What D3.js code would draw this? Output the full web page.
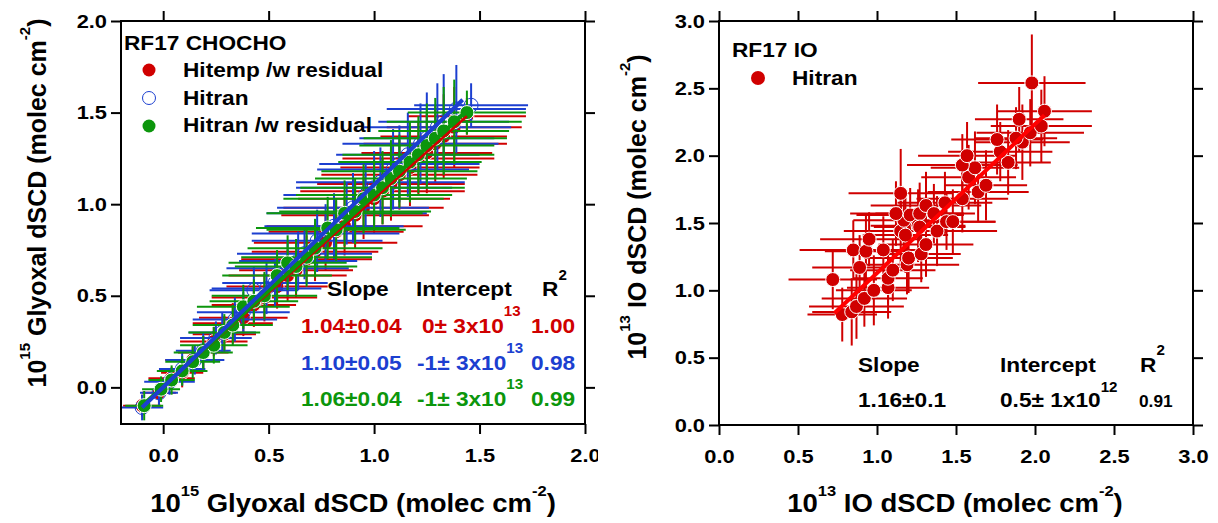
<!DOCTYPE html>
<html>
<head>
<meta charset="utf-8">
<script src="https://cdn.jsdelivr.net/npm/d3@7"></script>
<style>
  body { margin: 0; background: #fff; }
  text { font-family: "Liberation Sans", Arial, sans-serif; font-weight: bold; }
</style>
</head>
<body>
<svg id="chart" width="1218" height="523"></svg>
<script>
// ---- left panel: CHOCHO (10^15 molec cm-2) ----
const seriesNames = ["Hitemp /w residual", "Hitran", "Hitran /w residual"];
const seriesColors = ["#d00000", "#1c3fd0", "#0c960c"];

const hitempX = [-0.10,-0.02,0.04,0.09,0.14,0.19,0.24,0.29,0.33,0.38,0.43,0.48,0.54,0.59,0.63,0.68,0.72,0.77,0.82,0.86,0.91,0.95,1.00,1.04,1.08,1.12,1.17,1.21,1.25,1.29,1.33,1.38,1.44];
const hitempY = [-0.10,-0.03,0.05,0.08,0.15,0.19,0.25,0.29,0.35,0.38,0.45,0.49,0.55,0.61,0.64,0.70,0.74,0.79,0.85,0.88,0.94,0.98,1.03,1.07,1.11,1.16,1.20,1.25,1.28,1.33,1.37,1.42,1.48];
const hitempXerr = [0.09,0.08,0.11,0.10,0.13,0.12,0.16,0.15,0.19,0.21,0.20,0.25,0.24,0.28,0.27,0.31,0.30,0.34,0.32,0.37,0.35,0.38,0.36,0.39,0.35,0.37,0.33,0.36,0.31,0.34,0.30,0.32,0.28];
const hitempYerr = [0.06,0.07,0.06,0.08,0.07,0.09,0.08,0.10,0.11,0.10,0.12,0.13,0.12,0.14,0.15,0.13,0.16,0.15,0.17,0.16,0.18,0.17,0.19,0.18,0.20,0.19,0.21,0.20,0.22,0.21,0.23,0.22,0.10];

const hitranX = [-0.10,-0.02,0.03,0.09,0.15,0.19,0.25,0.28,0.34,0.38,0.43,0.49,0.53,0.59,0.64,0.67,0.73,0.77,0.81,0.87,0.90,0.96,1.00,1.03,1.09,1.12,1.16,1.22,1.25,1.30,1.33,1.39,1.46];
const hitranY = [-0.11,-0.03,0.03,0.10,0.15,0.20,0.27,0.30,0.37,0.41,0.53,0.54,0.57,0.65,0.69,0.73,0.80,0.84,0.88,0.95,0.98,1.05,1.09,1.12,1.19,1.22,1.27,1.33,1.36,1.42,1.45,1.52,1.54];
const hitranXerr = [0.10,0.09,0.12,0.11,0.14,0.13,0.17,0.16,0.20,0.22,0.21,0.26,0.25,0.29,0.28,0.32,0.31,0.35,0.33,0.38,0.36,0.39,0.37,0.40,0.36,0.38,0.34,0.37,0.32,0.35,0.31,0.33,0.27];
const hitranYerr = [0.07,0.07,0.07,0.09,0.08,0.10,0.09,0.11,0.12,0.11,0.13,0.14,0.13,0.15,0.16,0.14,0.17,0.16,0.18,0.17,0.19,0.18,0.20,0.19,0.22,0.21,0.23,0.22,0.25,0.24,0.26,0.24,0.12];

const hitranResX = [-0.09,-0.01,0.04,0.09,0.14,0.19,0.24,0.29,0.33,0.38,0.43,0.48,0.54,0.59,0.63,0.68,0.72,0.78,0.82,0.86,0.91,0.95,1.00,1.04,1.08,1.12,1.17,1.21,1.25,1.29,1.33,1.38,1.44];
const hitranResY = [-0.10,-0.01,0.04,0.09,0.14,0.19,0.23,0.30,0.34,0.44,0.47,0.50,0.61,0.68,0.66,0.71,0.76,0.87,0.86,0.95,0.96,1.03,1.05,1.09,1.14,1.18,1.23,1.27,1.32,1.36,1.40,1.45,1.50];
const hitranResXerr = [0.09,0.09,0.11,0.12,0.13,0.14,0.16,0.17,0.19,0.22,0.21,0.25,0.26,0.28,0.29,0.31,0.32,0.34,0.33,0.37,0.36,0.38,0.37,0.39,0.36,0.37,0.34,0.36,0.32,0.34,0.31,0.32,0.28];
const hitranResYerr = [0.08,0.07,0.08,0.08,0.09,0.09,0.10,0.10,0.11,0.12,0.12,0.13,0.14,0.15,0.15,0.16,0.16,0.17,0.17,0.18,0.18,0.19,0.19,0.20,0.21,0.20,0.22,0.21,0.23,0.22,0.24,0.23,0.12];

// fitted lines, end points
const chochoFitX = [[-0.10, 1.44], [-0.10, 1.42], [-0.10, 1.44]];
const chochoFitY = [[-0.10, 1.48], [-0.11, 1.57], [-0.10, 1.51]];

const chochoSlope = ["1.04±0.04", "1.10±0.05", "1.06±0.04"];
const chochoIntercept = ["0± 3x10", "-1± 3x10", "-1± 3x10"];
const chochoExp = "13";
const chochoR2 = ["1.00", "0.98", "0.99"];

const chochoTicks = [0, 0.5, 1.0, 1.5, 2.0];

// ---- right panel: IO (10^13 molec cm-2) ----
const ioX = [0.72,0.78,0.84,0.87,0.92,0.98,1.07,1.07,0.89,0.85,0.93,0.95,1.04,1.10,1.19,1.20,1.28,1.31,1.15,1.18,1.17,1.12,1.21,1.26,1.27,1.31,1.36,1.38,1.44,1.48,1.43,1.15,1.54,1.64,1.69,1.58,1.62,1.54,1.57,1.83,1.78,1.76,1.92,1.88,1.97,2.04,1.90,2.06,1.98,1.27];
const ioY = [1.08,0.82,0.84,0.88,0.94,1.00,1.02,1.09,1.17,1.30,1.29,1.38,1.30,1.15,1.19,1.24,1.27,1.34,1.44,1.41,1.52,1.57,1.56,1.48,1.57,1.63,1.57,1.44,1.51,1.51,1.65,1.72,1.68,1.73,1.78,1.84,1.91,1.93,2.00,1.95,2.03,2.12,2.10,2.13,2.17,2.22,2.27,2.33,2.54,1.47];
const ioXerr = [0.28,0.22,0.25,0.30,0.27,0.24,0.26,0.22,0.30,0.34,0.26,0.31,0.29,0.27,0.33,0.28,0.25,0.30,0.36,0.27,0.32,0.29,0.34,0.30,0.28,0.35,0.26,0.38,0.31,0.27,0.30,0.33,0.29,0.32,0.26,0.30,0.28,0.35,0.31,0.27,0.33,0.29,0.30,0.26,0.34,0.32,0.28,0.30,0.34,0.29];
const ioYerr = [0.22,0.20,0.25,0.24,0.21,0.26,0.23,0.19,0.24,0.22,0.27,0.20,0.25,0.23,0.22,0.26,0.21,0.24,0.25,0.28,0.22,0.24,0.20,0.27,0.23,0.25,0.22,0.26,0.21,0.24,0.23,0.33,0.25,0.22,0.26,0.24,0.27,0.23,0.25,0.24,0.22,0.26,0.28,0.23,0.25,0.27,0.24,0.26,0.36,0.22];

const ioFitX = [0.73, 2.06];
const ioFitY = [0.83, 2.30];

const ioSlope = "1.16±0.1";
const ioIntercept = "0.5± 1x10";
const ioExp = "12";
const ioR2 = "0.91";

const ioTicks = [0, 0.5, 1.0, 1.5, 2.0, 2.5, 3.0];

// ---------------------------------------------------------------
const SX = 1.08;     // picture is a bit wider than tall
const fmt = d3.format(".1f");
const svg = d3.select("#chart");

function stretchText(g, x, y, size, sx) {
  return g.append("text")
    .attr("transform", `translate(${x},${y}) scale(${sx || SX},1)`)
    .attr("font-size", size);
}

function supText(g, x, y, size, base, sup, supSize, dy, color) {
  const t = stretchText(g, x, y, size).attr("fill", color || "#000");
  t.append("tspan").text(base);
  t.append("tspan").attr("dy", dy).attr("font-size", supSize).text(sup);
  return t;
}

// axes on all four sides, ticks pointing outward
function frame(g, x, y, ticksX, ticksY) {
  const x0 = x.range()[0], x1 = x.range()[1];
  const y0 = y.range()[0], y1 = y.range()[1];

  const styleAxis = function(sel, labelled) {
    sel.select(".domain").remove();
    sel.selectAll(".tick line").attr("stroke", "#000").attr("stroke-width", 2);
    if (labelled) {
      sel.attr("font-size", 19).attr("font-family", null)
      sel.selectAll(".tick text").each(function() {
        const t = d3.select(this);
        t.attr("x", +t.attr("x") / 1.15).attr("transform", "scale(1.15,1)")
         .attr("fill", "#000");
      });
    }
  };

  g.append("g").attr("transform", `translate(0,${y0})`)
    .call(d3.axisBottom(x).tickValues(ticksX).tickSize(10).tickPadding(15).tickFormat(fmt))
    .call(s => styleAxis(s, true));
  g.append("g").attr("transform", `translate(0,${y1})`)
    .call(d3.axisTop(x).tickValues(ticksX).tickSize(10).tickFormat(""))
    .call(s => styleAxis(s, false));
  g.append("g").attr("transform", `translate(${x0},0)`)
    .call(d3.axisLeft(y).tickValues(ticksY).tickSize(10).tickPadding(4).tickFormat(fmt))
    .call(s => styleAxis(s, true));
  g.append("g").attr("transform", `translate(${x1},0)`)
    .call(d3.axisRight(y).tickValues(ticksY).tickSize(10).tickFormat(""))
    .call(s => styleAxis(s, false));

  g.append("rect")
    .attr("x", x0).attr("y", y1)
    .attr("width", x1 - x0).attr("height", y0 - y1)
    .attr("fill", "none").attr("stroke", "#000").attr("stroke-width", 2);
}

function errorSeries(g, x, y, xs, ys, xe, ye, color, fill, r) {
  const pts = xs.map((d, i) => ({x: d, y: ys[i], xe: xe[i], ye: ye[i]}));
  const s = g.append("g");
  s.selectAll(null).data(pts).enter().append("line")
    .attr("x1", d => x(d.x - d.xe)).attr("x2", d => x(d.x + d.xe))
    .attr("y1", d => y(d.y)).attr("y2", d => y(d.y))
    .attr("stroke", color).attr("stroke-width", 2);
  s.selectAll(null).data(pts).enter().append("line")
    .attr("x1", d => x(d.x)).attr("x2", d => x(d.x))
    .attr("y1", d => y(d.y - d.ye)).attr("y2", d => y(d.y + d.ye))
    .attr("stroke", color).attr("stroke-width", 2);
  s.selectAll(null).data(pts).enter().append("circle")
    .attr("cx", d => x(d.x)).attr("cy", d => y(d.y)).attr("r", r)
    .attr("fill", fill)
    .attr("stroke", fill === "none" ? color : "#fff")
    .attr("stroke-width", 1);
}

// =================== left panel ===================
const left = svg.append("svg").attr("x", 0).attr("y", 0)
  .attr("width", 598).attr("height", 523);

const xL = d3.scaleLinear().domain([-0.2, 2.0]).range([121, 585]);
const yL = d3.scaleLinear().domain([-0.2, 2.0]).range([424, 21]);

left.append("clipPath").attr("id", "clipL").append("rect")
  .attr("x", 121).attr("y", 21).attr("width", 464).attr("height", 403);

const plotL = left.append("g").attr("clip-path", "url(#clipL)");
const leftSeries = [
  [hitempX, hitempY, hitempXerr, hitempYerr],
  [hitranX, hitranY, hitranXerr, hitranYerr],
  [hitranResX, hitranResY, hitranResXerr, hitranResYerr]
];
leftSeries.forEach((s, i) => {
  errorSeries(plotL, xL, yL, s[0], s[1], s[2], s[3], seriesColors[i],
    i === 1 ? "none" : seriesColors[i], 7);
});

// fit lines
const fitWidth = [2.5, 4, 4];
[0, 2, 1].forEach(i => {
  plotL.append("line")
    .attr("x1", xL(chochoFitX[i][0])).attr("x2", xL(chochoFitX[i][1]))
    .attr("y1", yL(chochoFitY[i][0])).attr("y2", yL(chochoFitY[i][1]))
    .attr("stroke", seriesColors[i]).attr("stroke-width", fitWidth[i]);
});

frame(left, xL, yL, chochoTicks, chochoTicks);

// legend
stretchText(left, 124, 50, 21).text("RF17 CHOCHO");
seriesNames.forEach((name, i) => {
  left.append("circle")
    .attr("cx", 149).attr("cy", 70 + i * 28).attr("r", 6.5)
    .attr("fill", i === 1 ? "#fff" : seriesColors[i])
    .attr("stroke", i === 1 ? seriesColors[i] : "none").attr("stroke-width", 1);
  stretchText(left, 183, 77 + i * 27.5, 21).text(name);
});

// fit statistics
stretchText(left, 327, 296, 21).text("Slope");
stretchText(left, 416, 296, 21).text("Intercept");
supText(left, 542, 296, 21, "R", "2", 14, -16);
chochoSlope.forEach((s, i) => {
  const yb = 333 + i * 36.5;
  stretchText(left, 301, yb, 21).attr("fill", seriesColors[i]).text(s);
  supText(left, i === 0 ? 422 : 417, yb, 21, chochoIntercept[i], chochoExp, 14, -17, seriesColors[i]);
  stretchText(left, 531, yb, 21).attr("fill", seriesColors[i]).text(chochoR2[i]);
});

// axis titles
const tx = stretchText(left, 353, 512, 25, 1.1).attr("text-anchor", "middle");
tx.append("tspan").text("10");
tx.append("tspan").attr("dy", -16).attr("font-size", 15).text("15");
tx.append("tspan").attr("dy", 16).text(" Glyoxal dSCD (molec cm");
tx.append("tspan").attr("dy", -16).attr("font-size", 15).text("-2");
tx.append("tspan").attr("dy", 16).text(")");

const ty = left.append("text").attr("transform", "translate(46,203) rotate(-90)")
  .attr("font-size", 25).attr("text-anchor", "middle");
ty.append("tspan").text("10");
ty.append("tspan").attr("dy", -16).attr("font-size", 15).text("15");
ty.append("tspan").attr("dy", 16).text(" Glyoxal dSCD (molec cm");
ty.append("tspan").attr("dy", -16).attr("font-size", 15).text("-2");
ty.append("tspan").attr("dy", 16).text(")");

// =================== right panel ===================
const right = svg.append("g");

const xR = d3.scaleLinear().domain([0, 3]).range([719, 1193]);
const yR = d3.scaleLinear().domain([0, 3]).range([425, 21]);

right.append("clipPath").attr("id", "clipR").append("rect")
  .attr("x", 719).attr("y", 21).attr("width", 474).attr("height", 404);

const plotR = right.append("g").attr("clip-path", "url(#clipR)");
errorSeries(plotR, xR, yR, ioX, ioY, ioXerr, ioYerr, "#d00000", "#d00000", 7);
plotR.append("line")
  .attr("x1", xR(ioFitX[0])).attr("x2", xR(ioFitX[1]))
  .attr("y1", yR(ioFitY[0])).attr("y2", yR(ioFitY[1]))
  .attr("stroke", "#ff0000").attr("stroke-width", 4);

frame(right, xR, yR, ioTicks, ioTicks);

stretchText(right, 732, 57, 21).text("RF17 IO");
right.append("circle").attr("cx", 758).attr("cy", 78).attr("r", 7).attr("fill", "#d00000");
stretchText(right, 792, 85, 21).text("Hitran");

stretchText(right, 858, 372, 21).text("Slope");
stretchText(right, 1000, 372, 21).text("Intercept");
supText(right, 1140, 372, 21, "R", "2", 14, -17);
stretchText(right, 858, 407, 21).text(ioSlope);
supText(right, 1000, 407, 21, ioIntercept, ioExp, 14, -15);
stretchText(right, 1139, 407, 16).text(ioR2);

const tx2 = stretchText(right, 955, 512, 25, 1.1).attr("text-anchor", "middle");
tx2.append("tspan").text("10");
tx2.append("tspan").attr("dy", -16).attr("font-size", 15).text("13");
tx2.append("tspan").attr("dy", 16).text(" IO dSCD (molec cm");
tx2.append("tspan").attr("dy", -16).attr("font-size", 15).text("-2");
tx2.append("tspan").attr("dy", 16).text(")");

const ty2 = right.append("text").attr("transform", "translate(646,207) rotate(-90)")
  .attr("font-size", 25).attr("text-anchor", "middle");
ty2.append("tspan").text("10");
ty2.append("tspan").attr("dy", -16).attr("font-size", 15).text("13");
ty2.append("tspan").attr("dy", 16).text(" IO dSCD (molec cm");
ty2.append("tspan").attr("dy", -16).attr("font-size", 15).text("-2");
ty2.append("tspan").attr("dy", 16).text(")");
</script>
</body>
</html>
